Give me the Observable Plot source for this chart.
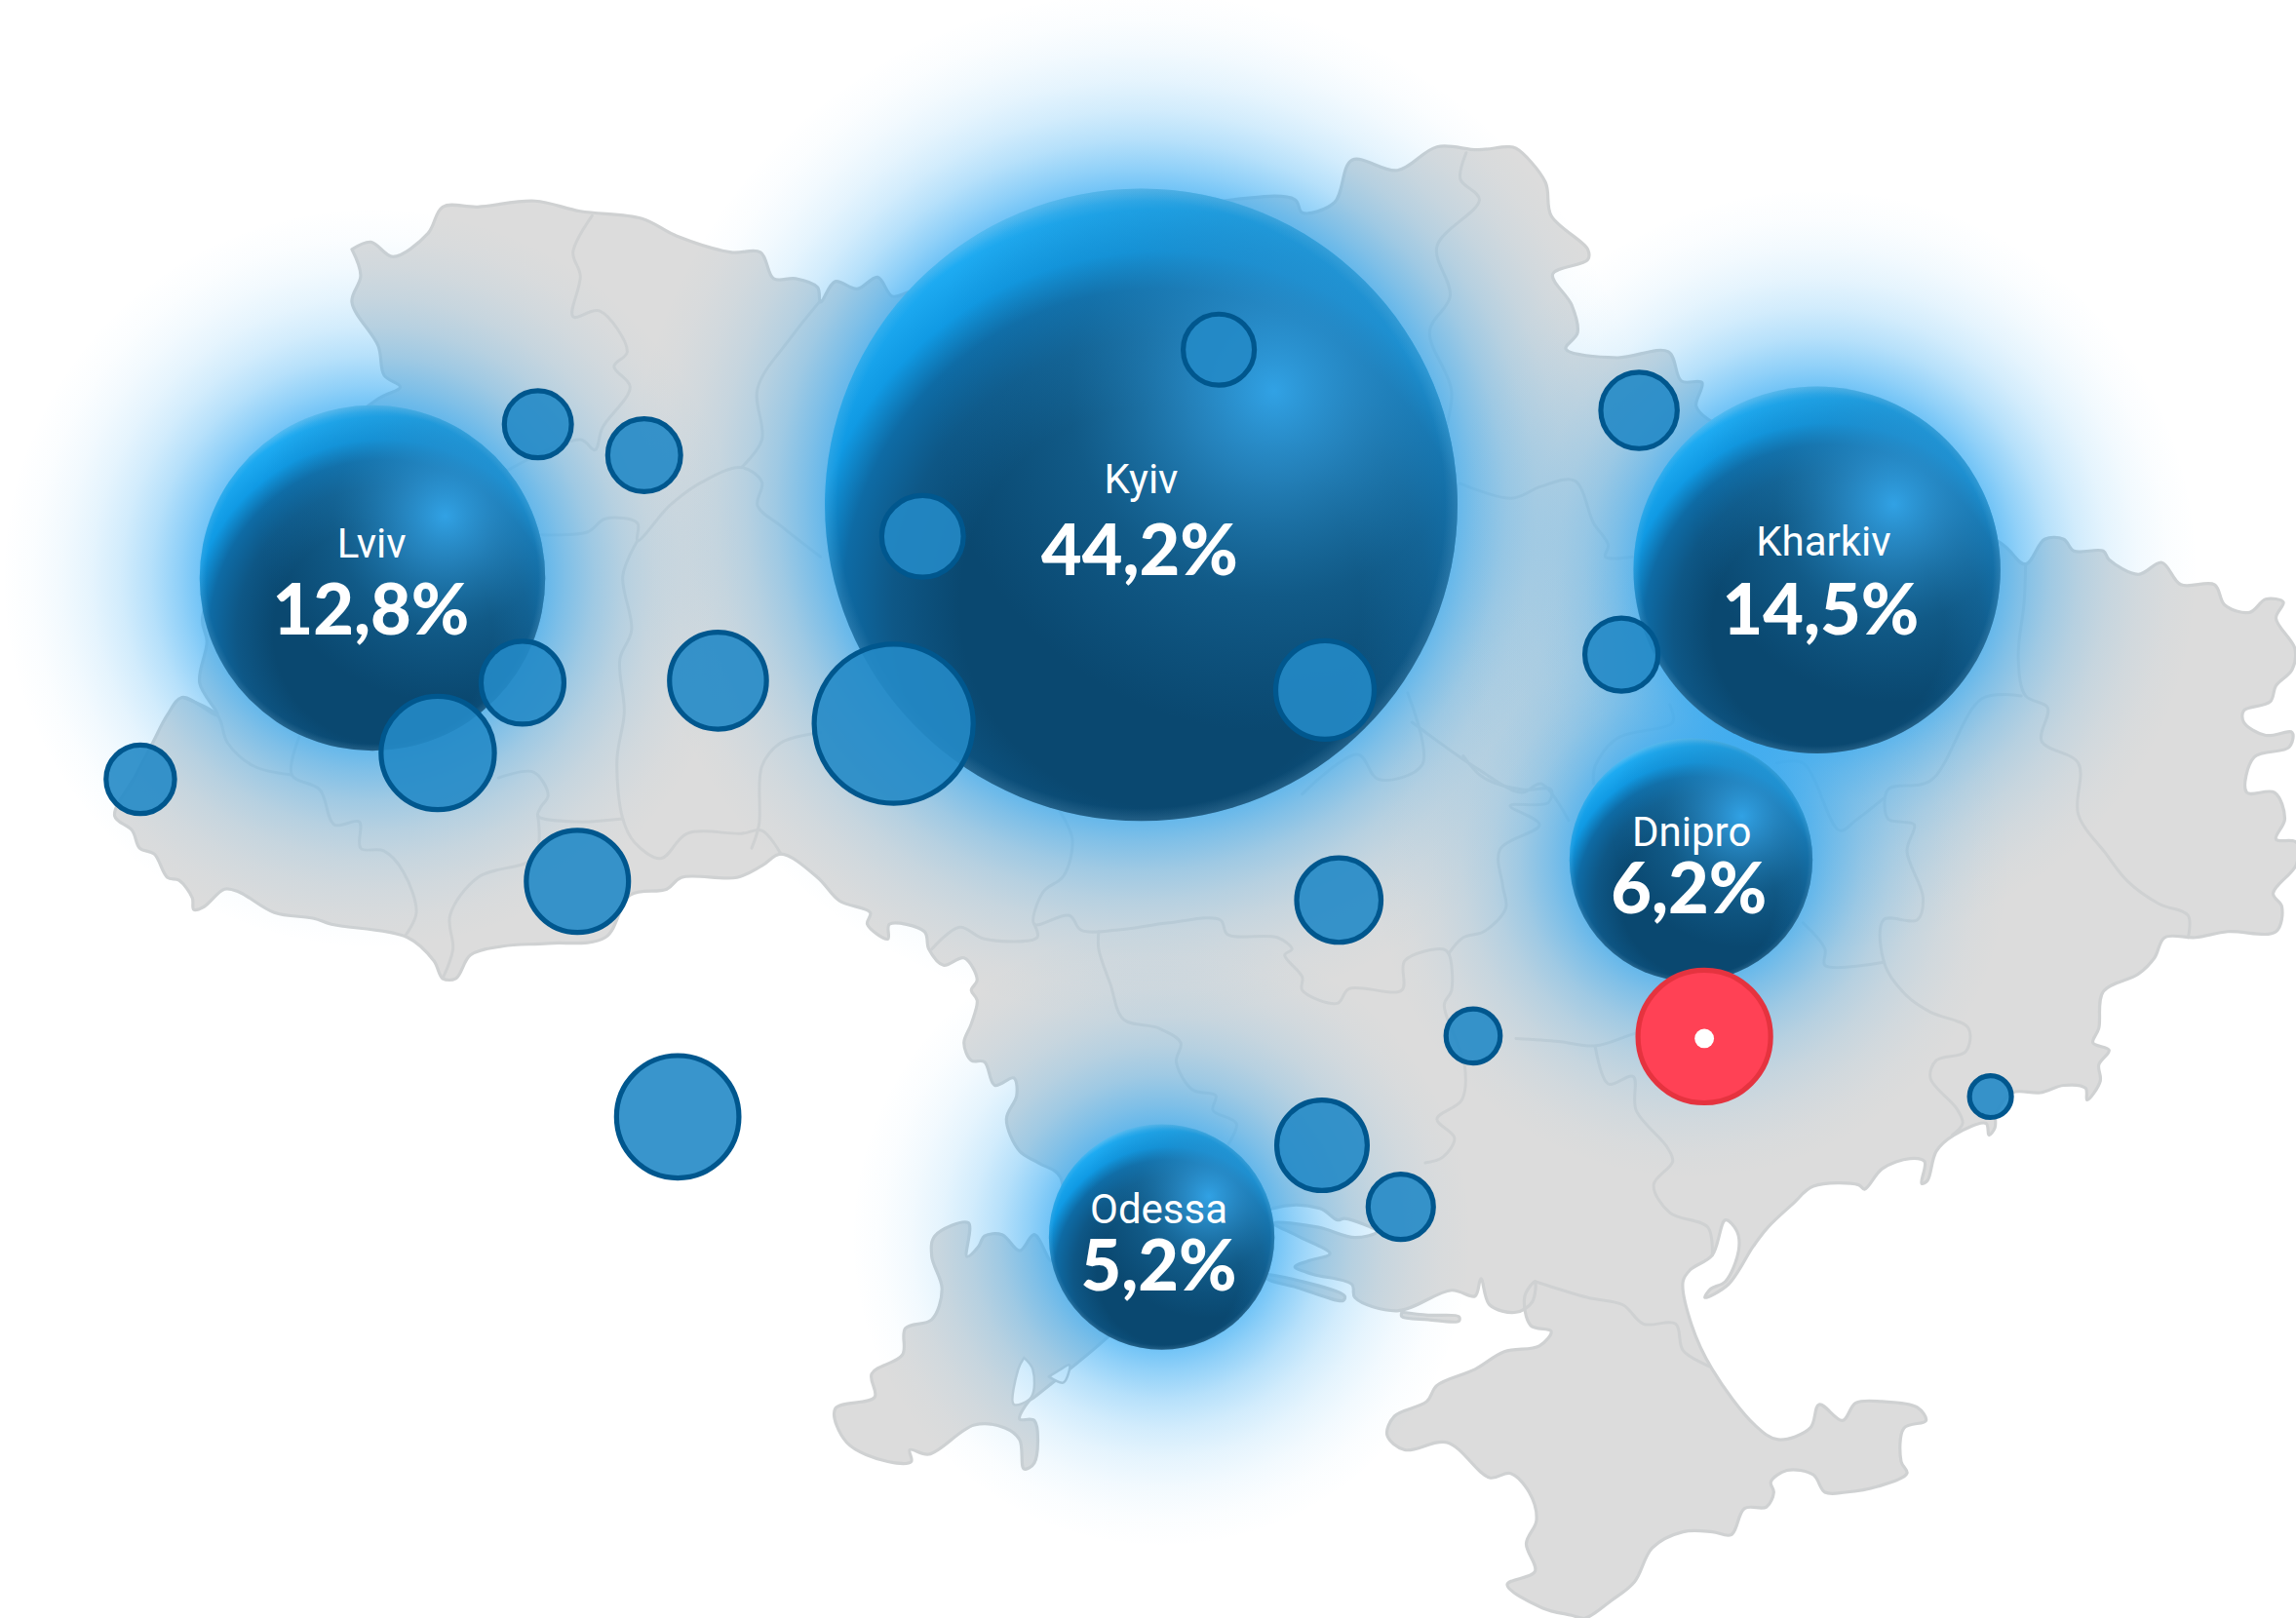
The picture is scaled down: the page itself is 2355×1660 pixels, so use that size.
<!DOCTYPE html>
<html>
<head>
<meta charset="utf-8">
<style>html,body{margin:0;padding:0;background:#fff}svg{display:block}</style>
<script src="https://cdn.jsdelivr.net/npm/d3@7"></script>
<script src="https://cdn.jsdelivr.net/npm/@observablehq/plot@0.6"></script>
</head>
<body>
<div id="chart"></div>
<script>
const cities = ["Kyiv", "Lviv", "Kharkiv", "Dnipro", "Odessa"];
const shares = ["44,2%", "12,8%", "14,5%", "6,2%", "5,2%"];
const cityX = [779, 254, 1240.5, 1154.5, 793];
const cityY = [344.5, 394.5, 389, 587, 844.6];
const cityR = [216, 118, 125.3, 83, 77];
const nameX = [779, 253.5, 1245, 1155, 791];
const nameY = [327.5, 371.5, 370, 568.5, 826.5];
const shareX = [778, 253, 1243, 1153, 791];
const shareY = [377, 418, 418, 608, 866];

const smallX = [367, 439.6, 95.5, 356.5, 298.6, 490, 394, 462.5, 610, 629.7, 832, 904.5, 1119, 1107, 914, 1005.7, 902.5, 956.3, 1359];
const smallY = [289.5, 310.6, 532, 466, 514, 464.6, 601.7, 762.5, 494, 366, 238.5, 471, 280, 446.8, 614.5, 707.3, 782, 824, 748.7];
const smallR = [22.9, 24.9, 23.4, 28.3, 38.7, 33.1, 34.9, 41.8, 54.3, 27.9, 24.3, 33.6, 26.1, 25, 28.8, 18.5, 30.9, 22.3, 14.3];

const markerX = [1163.6];
const markerY = [707.7];
const markerR = [45.3];
const markerCoreR = [6.6];
const markerCoreY = [709];

const mainland = [
[240,170],[253,165],[268,175],[292,159],[302,141],[326,141],[365,137],[396,144],[438,149],[462,161],[499,172],[519,172],[528,190],[543,190],[558,196],[560,206],[570,192],[585,197],[599,189],[609,202],[621,199],[700,170],[842,136],[884,136],[889,145],[911,138],[923,109],[954,116],[981,100],[1009,102],[1029,100],[1035,101],[1055,124],[1059,147],[1084,170],[1084,177],[1060,187],[1073,208],[1077,227],[1069,238],[1104,244],[1139,240],[1148,260],[1162,261],[1158,277],[1166,286],[1200,300],[1365,370],[1383,385],[1396,368],[1409,368],[1416,376],[1436,376],[1440,382],[1460,392],[1476,384],[1489,399],[1512,399],[1519,413],[1536,418],[1547,409],[1559,411],[1554,422],[1567,443],[1565,457],[1554,468],[1550,479],[1532,485],[1532,493],[1547,502],[1565,500],[1563,510],[1539,517],[1534,541],[1553,541],[1560,559],[1554,573],[1568,575],[1568,590],[1552,610],[1558,619],[1554,636],[1521,636],[1499,640],[1478,640],[1471,654],[1460,665],[1436,677],[1433,702],[1429,712],[1440,717],[1433,727],[1434,738],[1425,751],[1424,743],[1409,741],[1393,746],[1374,746],[1363,760],[1362,770],[1358,775],[1356,767],[1334,775],[1322,786],[1316,806],[1312,808],[1314,793],[1304,791],[1285,798],[1273,812],[1269,809],[1238,810],[1224,822],[1207,838],[1197,851],[1180,877],[1164,886],[1168,880],[1178,875],[1187,854],[1186,841],[1178,833],[1169,857],[1154,867],[1149,875],[1155,905],[1169,935],[1198,973],[1214,983],[1236,975],[1242,959],[1258,970],[1267,958],[1285,957],[1309,961],[1315,970],[1300,975],[1298,998],[1302,1006],[1282,1015],[1260,1019],[1246,1019],[1238,1007],[1220,1004],[1209,1012],[1211,1019],[1206,1029],[1191,1030],[1182,1048],[1169,1046],[1149,1046],[1128,1057],[1116,1080],[1100,1093],[1082,1105],[1073,1103],[1053,1098],[1029,1082],[1048,1073],[1042,1054],[1049,1038],[1044,1019],[1031,1006],[1017,1009],[988,985],[959,990],[947,980],[952,967],[974,957],[981,946],[1007,935],[1027,923],[1051,919],[1059,909],[1045,905],[1041,885],[1048,875],[1046,889],[1035,896],[1017,891],[1011,873],[1007,885],[991,881],[954,895],[925,886],[923,877],[896,870],[884,865],[893,861],[908,856],[886,844],[869,835],[900,838],[925,845],[940,841],[918,832],[913,833],[901,825],[869,825],[800,870],[755,914],[706,954],[702,957],[696,969],[706,970],[706,999],[699,1003],[696,983],[686,975],[665,973],[634,993],[621,990],[622,998],[606,998],[578,985],[570,962],[597,954],[595,938],[616,925],[618,907],[636,901],[643,880],[636,858],[638,844],[661,835],[660,858],[668,851],[672,844],[684,843],[696,854],[706,843],[718,861],[724,804],[709,794],[696,786],[687,764],[694,748],[692,736],[679,741],[672,725],[663,724],[658,712],[663,699],[667,683],[663,676],[667,669],[658,654],[644,659],[634,648],[631,636],[607,631],[606,641],[592,631],[594,623],[573,615],[558,599],[533,583],[520,591],[503,599],[465,599],[455,607],[430,611],[413,640],[374,644],[343,646],[321,652],[311,668],[302,668],[296,656],[278,640],[226,631],[214,627],[187,623],[163,609],[153,607],[139,619],[132,621],[131,613],[122,601],[114,599],[105,583],[95,579],[90,567],[78,557],[92,530],[104,507],[114,488],[124,476],[148,488],[136,466],[141,438],[138,421],[180,340],[258,272],[273,264],[262,256],[258,236],[240,206],[246,188],[240,170]
];
const tendraSpit = [[865,870],[885,874],[918,885],[917,888],[885,879],[865,873],[865,870]];
const dzharylhach = [[957,896],[975,898],[996,899],[996,902],[975,901],[957,899],[957,896]];
const limans = [[[699,927],[695,935],[692,959],[704,954],[705,935],[699,927]],[[716,940],[724,935],[730,932],[726,944],[716,940]]];

const borders = [
[[404,147],[391,172],[396,188],[391,216],[409,212],[428,240],[419,250],[430,264],[411,292],[406,307],[396,300],[346,321]],
[[370,365],[401,363],[413,354],[435,357],[435,369],[457,345],[479,329],[506,319],[520,329],[517,345],[533,359],[560,380]],
[[560,205],[540,230],[517,265],[520,300],[506,319]],
[[435,369],[425,393],[431,430],[423,450],[426,486],[421,519],[425,559],[433,575],[451,586],[469,569],[506,569],[520,567],[533,583]],
[[560,500],[533,507],[520,523],[518,563],[513,579]],
[[340,531],[364,527],[374,543],[369,551],[367,557],[394,561],[425,559]],
[[367,557],[365,585],[326,599],[307,625],[309,648],[302,668]],
[[204,503],[199,529],[218,539],[228,563],[245,561],[246,579],[262,581],[275,595],[284,623],[277,638]],
[[124,476],[148,488],[155,507],[173,523],[199,529]],
[[723,553],[732,573],[726,598],[712,609],[706,631],[730,625],[738,635],[762,635],[798,630],[833,628],[838,638],[872,640],[882,648],[877,652],[889,667],[889,676],[913,685],[921,675],[957,676],[959,656],[985,648],[989,651],[991,676],[986,686],[1000,728],[998,751],[981,764],[993,777],[985,790],[973,794]],
[[636,648],[655,633],[672,641],[708,640],[706,631]],
[[889,542],[927,515],[941,532],[971,522],[961,473]],
[[964,493],[1009,525],[1039,541],[1052,535],[1071,560]],
[[997,330],[1032,340],[1052,332],[1075,328],[1088,357],[1098,372],[1096,380],[1115,380]],
[[1001,104],[997,122],[1010,136],[981,168],[990,202],[976,226],[991,267],[985,300]],
[[1140,481],[1142,493],[1104,504],[1089,523],[1088,535]],
[[999,516],[1013,531],[1039,539],[1059,539],[1057,548],[1031,550],[1051,563],[1024,580],[1026,605],[1028,620],[1013,636],[999,640],[989,651]],
[[1383,385],[1382,411],[1378,449],[1383,475],[1398,483],[1394,506],[1419,521],[1419,556],[1438,583],[1453,602],[1474,617],[1494,625],[1494,640]],
[[1380,475],[1353,477],[1318,533],[1289,539],[1289,559],[1298,561],[1307,563],[1302,581],[1313,613],[1309,628],[1286,628],[1287,659],[1302,680],[1318,691],[1344,702],[1342,718],[1322,724],[1318,736],[1336,757],[1340,767],[1333,775]],
[[1213,521],[1231,521],[1256,567],[1267,560],[1286,545]],
[[1231,630],[1246,648],[1246,659],[1286,657]],
[[1035,709],[1064,711],[1089,714],[1115,706],[1170,690]],
[[1089,714],[1098,740],[1115,735],[1117,758],[1138,783],[1142,793],[1129,809],[1140,828],[1166,838],[1169,857]],
[[750,636],[750,648],[758,672],[767,696],[791,702],[806,712],[803,725],[814,744],[830,748],[828,758],[844,767],[838,782]],
[[1048,875],[1084,886],[1108,891],[1122,904],[1144,904],[1149,922],[1167,933]]
];

const landColor = "#dcdcdc";
const lineColor = "#cfd1d2";
const toRows = (pts, id) => pts.map(([x, y]) => ({x, y, id}));
const borderRows = borders.flatMap((b, i) => toRows(b, i));
const bubbles = cities.map((name, i) => ({name, share: shares[i], x: cityX[i], y: cityY[i], r: cityR[i], nx: nameX[i], ny: nameY[i], sx: shareX[i], sy: shareY[i]}));
const smalls = smallX.map((x, i) => ({x, y: smallY[i], r: smallR[i]}));
const glowWidth = 135;
const smooth = "catmull-rom";

const land = (pts, id) => Plot.line(toRows(pts, id), {x: "x", y: "y", curve: smooth, fill: landColor, stroke: lineColor, strokeWidth: 3.2, strokeLinejoin: "round"});

const chart = Plot.plot({
  width: 2355, height: 1660, margin: 0,
  style: {background: "#fff"},
  x: {axis: null, domain: [0, 1568], range: [0, 2355]},
  y: {axis: null, domain: [0, 1105.2], range: [0, 1660]},
  r: {type: "linear", domain: [0, 400], range: [0, 600.8]},
  color: {type: "identity"},
  marks: [
    land(mainland, "m"), land(tendraSpit, "t"), land(dzharylhach, "d"),
    ...limans.map((l, i) => Plot.line(toRows(l, i), {x: "x", y: "y", curve: smooth, fill: "#fff", stroke: lineColor, strokeWidth: 2.5})),
    Plot.line(borderRows, {x: "x", y: "y", z: "id", curve: smooth, stroke: lineColor, strokeWidth: 3, strokeLinejoin: "round"}),
    Plot.dot(bubbles, {x: "x", y: "y", r: d => d.r + glowWidth, fill: d => `url(#glow-${d.name})`}),
    Plot.dot(bubbles, {x: "x", y: "y", r: "r", fill: "url(#sphere)"}),
    Plot.dot(bubbles, {x: "x", y: "y", r: "r", fill: "url(#spot)"}),
    Plot.dot(bubbles, {x: "x", y: "y", r: "r", fill: "url(#rim)"}),
    Plot.dot(smalls, {x: "x", y: "y", r: "r", fill: "#2389c6", fillOpacity: 0.9, stroke: "#00578e", strokeWidth: 5.2}),
    Plot.dot(markerX.map((x, i) => ({x, y: markerY[i], r: markerR[i]})), {x: "x", y: "y", r: "r", fill: "#ff4155", stroke: "#e5333f", strokeWidth: 5.2}),
    Plot.dot(markerX.map((x, i) => ({x, y: markerCoreY[i], r: markerCoreR[i]})), {x: "x", y: "y", r: "r", fill: "#fff"}),
    Plot.text(bubbles, {x: "nx", y: "ny", text: "name", fill: "#fff", fontFamily: "Roboto", fontSize: 42, textAnchor: "middle", lineAnchor: "middle"}),
    Plot.text(bubbles, {x: "sx", y: "sy", text: "share", fill: "#fff", fontFamily: "Lato", fontWeight: 900, fontSize: 72, textAnchor: "middle", lineAnchor: "middle"})
  ]
});

const glowCurve = [[0, .66], [.1, .52], [.25, .34], [.4, .21], [.55, .12], [.7, .06], [.85, .02], [1, 0]];
const glowDefs = bubbles.map(b => {
  const R = b.r + glowWidth;
  const inner = b.r / R;
  const stops = glowCurve.map(([t, a]) => `<stop offset="${(inner + t * (1 - inner)).toFixed(4)}" stop-color="#29a5f2" stop-opacity="${a}"/>`).join("");
  return `<radialGradient id="glow-${b.name}"><stop offset="0" stop-color="#29a5f2" stop-opacity=".66"/>${stops}</radialGradient>`;
}).join("");
const defs = document.createElementNS("http://www.w3.org/2000/svg", "defs");
defs.innerHTML = glowDefs + `
<radialGradient id="sphere" cx=".53" cy=".66" r=".66">
  <stop offset="0" stop-color="#0a4870"/>
  <stop offset=".48" stop-color="#0a4870"/>
  <stop offset=".64" stop-color="#0e5786"/>
  <stop offset=".76" stop-color="#0e6ba5"/>
  <stop offset=".85" stop-color="#109ae4"/>
  <stop offset=".95" stop-color="#1eabf2"/>
  <stop offset="1" stop-color="#4dbcf6"/>
</radialGradient>
<radialGradient id="spot" cx=".71" cy=".32" r=".54">
  <stop offset="0" stop-color="#33a6ea" stop-opacity=".95"/>
  <stop offset=".25" stop-color="#2a8ecb" stop-opacity=".8"/>
  <stop offset=".6" stop-color="#2080b8" stop-opacity=".32"/>
  <stop offset="1" stop-color="#1a78b0" stop-opacity="0"/>
</radialGradient>
<radialGradient id="rim">
  <stop offset=".96" stop-color="#9fc4dc" stop-opacity="0"/>
  <stop offset="1" stop-color="#9fc4dc" stop-opacity=".16"/>
</radialGradient>`;
chart.insertBefore(defs, chart.firstChild);
document.getElementById("chart").appendChild(chart);
</script>
</body>
</html>
